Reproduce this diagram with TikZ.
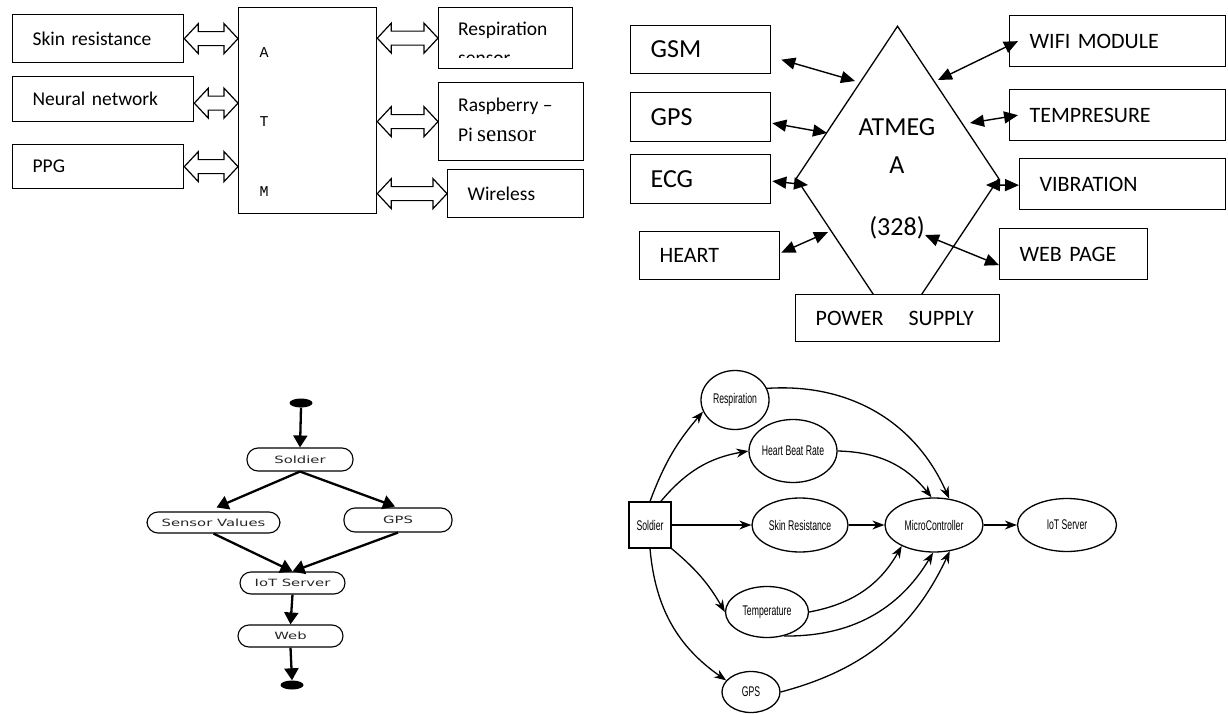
\documentclass[tikz,border=0pt]{standalone}
\usepackage{fontspec}
\usepackage{graphicx}
\setmainfont{Carlito}
\newfontfamily\monof{Liberation Mono}
\newfontfamily\seriff{Liberation Serif}
\newfontfamily\verdf{DejaVu Sans}
\newfontfamily\tahf{Liberation Sans}
\usetikzlibrary{arrows.meta,shapes.geometric,calc}
\newcommand{\fs}[1]{\fontsize{#1}{#1}\selectfont}
\newcommand{\flowtxt}[1]{\scalebox{1.48}[1]{\verdf\fontsize{10}{10}\selectfont #1}}
\newcommand{\condtxt}[1]{\scalebox{0.62}[1]{\tahf\fontsize{14}{14}\selectfont #1}}
\newcommand{\hollowarrow}[2]{%
  \draw[hollowarr] let \p1=#1, \p2=#2 in
    (\x1,\y1) -- (\x1+14pt,\y1+15pt) -- (\x1+14pt,\y1+7pt) -- (\x2-14pt,\y1+7pt)
    -- (\x2-14pt,\y1+15pt) -- (\x2,\y1) -- (\x2-14pt,\y1-15pt) -- (\x2-14pt,\y1-7pt)
    -- (\x1+14pt,\y1-7pt) -- (\x1+14pt,\y1-15pt) -- cycle;}
\tikzset{
  hollowarr/.style={draw, line width=1.2pt, fill=white, line join=miter},
  tlbox/.style={draw, line width=1.3pt, anchor=north west, inner xsep=20pt, inner ysep=0pt, align=left, font=\fs{19.5}},
  trbox/.style={draw, line width=1.3pt, anchor=north west, inner xsep=20pt, inner ysep=0pt, align=left},
  dblarr/.style={line width=1.4pt, {Triangle[length=14pt,width=12pt]}-{Triangle[length=14pt,width=12pt]}},
  flownode/.style={draw, line width=1.1pt, rounded corners=11pt, inner sep=0pt, text=black!85},
  blob/.style={ellipse, fill=black, minimum width=23pt, minimum height=9pt, inner sep=0pt},
  flowarr/.style={line width=2.3pt, -{Triangle[length=12pt,width=14pt]}},
  oval/.style={ellipse, draw, line width=1.3pt, inner sep=0pt},
  brarr/.style={line width=1.3pt, -{Stealth[length=12pt,width=9pt]}},
}
\begin{document}
\begin{tikzpicture}[x=1pt,y=-1pt]
\useasboundingbox (0,0) rectangle (1228,714);

% ---------------- top left ----------------
\node[tlbox, minimum width=171pt, minimum height=48pt, text width=131pt] (sk) at (12,14) {Skin resistance};
\node[tlbox, minimum width=181pt, minimum height=45pt, text width=141pt] (nn) at (12,76) {Neural network};
\node[tlbox, minimum width=171pt, minimum height=44pt, text width=131pt] (ppg) at (12,144) {PPG};
\node[draw, line width=1.3pt, anchor=north west, minimum width=138pt, minimum height=206pt, inner sep=0pt] (atm) at (238,7) {};
\node[font=\monof\fs{15}] (la) at (264,53) {A};
\node[font=\monof\fs{15}] (lt) at (264,122) {T};
\node[font=\monof\fs{15}] (lm) at (264,192) {M};

\node[tlbox, minimum width=134pt, minimum height=61pt, text width=94pt] (resp) at (438,7) {};
\node[anchor=base west, font=\fs{19.5}, inner sep=0pt] (respt) at (458,36) {Respiration};
\begin{scope}
  \clip (440,9) rectangle (570,58);
  \node[anchor=base west, font=\fs{19.5}, inner sep=0pt] (resps) at (458,65) {sensor};
\end{scope}
\node[tlbox, minimum width=145pt, minimum height=78pt, text width=105pt] (rasp) at (438,82) {};
\node[anchor=base west, font=\fs{19.5}, inner sep=0pt] (raspa) at (458,112) {Raspberry –};
\node[anchor=base west, font=\fs{19.5}, inner sep=0pt] (raspb) at (458,142) {Pi {\seriff\fs{23}sensor}};
\node[tlbox, minimum width=136pt, minimum height=48pt, text width=96pt] (wl) at (447,169) {Wireless};

\hollowarrow{(sk.east)}{(atm.west)}
\hollowarrow{([yshift=-4pt]nn.east)}{(atm.west)}
\hollowarrow{(ppg.east)}{(atm.west)}
\hollowarrow{(atm.east |- resp.west)}{(resp.west)}
\hollowarrow{(atm.east |- rasp.west)}{(rasp.west)}
\hollowarrow{(atm.east |- wl.west)}{(wl.west)}

% ---------------- top right ----------------
\node[draw, diamond, line width=1.3pt, minimum width=203pt, minimum height=305pt, inner sep=0pt] (mcu) at (897.5,178.5) {};
\node[font=\fs{26}] (t1) at (897,127) {ATMEG};
\node[font=\fs{26}] (t2) at (897,165) {A};
\node[font=\fs{26}] (t3) at (897,228) {(328)};

\node[trbox, font=\fs{26}, minimum width=140pt, minimum height=48pt, text width=100pt] (gsm) at (630,25) {GSM};
\node[trbox, font=\fs{26}, minimum width=140pt, minimum height=49pt, text width=100pt] (gps) at (630,92) {GPS};
\node[trbox, font=\fs{26}, minimum width=140pt, minimum height=49pt, text width=100pt] (ecg) at (630,154) {ECG};
\node[trbox, font=\fs{22}, minimum width=140pt, minimum height=48pt, text width=100pt] (heart) at (639,231) {HEART};
\node[trbox, font=\fs{22}, minimum width=216pt, minimum height=51pt, text width=176pt] (wifi) at (1009,15) {WIFI MODULE};
\node[trbox, font=\fs{22}, minimum width=216pt, minimum height=51pt, text width=176pt] (temp) at (1009,89) {TEMPRESURE};
\node[trbox, font=\fs{22}, minimum width=206pt, minimum height=51pt, text width=166pt] (vib) at (1019,158) {VIBRATION};
\node[trbox, font=\fs{22}, minimum width=148pt, minimum height=51pt, text width=108pt] (web) at (999,228) {WEB PAGE};

\coordinate (a1) at (855,81);
\coordinate (a2) at (827,133);
\coordinate (a3) at (808,185);
\coordinate (a4) at (828,232);
\coordinate (a5) at (938,80);
\coordinate (a6) at (970,123);
\coordinate (a7) at (986,185);
\coordinate (a8) at (925,235);
\draw[dblarr] ($(gsm.east)+(10,10)$) -- (a1);
\draw[dblarr] ($(gps.east)+(1,6)$) -- (a2);
\draw[dblarr] ($(ecg.east)+(1,2)$) -- (a3);
\draw[dblarr] ($(heart.east)+(1,-3)$) -- (a4);
\draw[dblarr] (a5) -- ($(wifi.west)+(9,0)$);
\draw[dblarr] (a6) -- ($(temp.west)+(9,0)$);
\draw[dblarr] (a7) -- ($(vib.west)+(0,1)$);
\draw[dblarr] (a8) -- ($(web.west)+(0,11)$);

\node[trbox, fill=white, font=\fs{22}, minimum width=204pt, minimum height=47pt, text width=164pt] (ps) at (795,294) {POWER\hspace{25pt}SUPPLY};

% ---------------- bottom left ----------------
\node[blob] (st) at (301,403) {};
\node[flownode, minimum width=106pt, minimum height=23pt] (fsold) at (300,459.5) {\flowtxt{Soldier}};
\node[flownode, minimum width=133pt, minimum height=21pt] (fsv) at (213.5,522.5) {\flowtxt{Sensor Values}};
\node[flownode, minimum width=108pt, minimum height=24pt] (fgps) at (398,520) {\flowtxt{GPS}};
\node[flownode, minimum width=105pt, minimum height=22pt] (fiot) at (292.5,583) {\flowtxt{IoT Server}};
\node[flownode, minimum width=105pt, minimum height=22pt] (fweb) at (290.5,636) {\flowtxt{Web}};
\node[blob] (en) at (292,685) {};
\draw[flowarr] (st.south) -- (fsold.north);
\draw[flowarr] (fsold.south) -- ([xshift=3pt,yshift=4pt]fsv.north);
\draw[flowarr] (fsold.south) -- ([xshift=-3pt,yshift=1pt]fgps.north);
\draw[flowarr] (fsv.south) -- (fiot.north);
\draw[flowarr] (fgps.south) -- (fiot.north);
\draw[flowarr] (fiot.south) -- (fweb.north);
\draw[flowarr] (fweb.south) -- (en.north);

% ---------------- bottom right ----------------
\node[draw, line width=1.3pt, minimum width=42pt, minimum height=46pt, inner sep=0pt] (bsold) at (650,525) {\condtxt{Soldier}};
\node[oval, minimum width=68pt, minimum height=59pt] (bresp) at (735,400) {\condtxt{Respiration}};
\node[oval, minimum width=88pt, minimum height=63pt] (bheart) at (793,451) {\condtxt{Heart Beat Rate}};
\node[oval, minimum width=96pt, minimum height=54pt] (bskin) at (800,525) {\condtxt{Skin Resistance}};
\node[oval, minimum width=98pt, minimum height=54pt] (bmc) at (934,525) {\condtxt{MicroController}};
\node[oval, minimum width=99pt, minimum height=53pt] (biot) at (1067,525) {\condtxt{IoT Server}};
\node[oval, minimum width=83pt, minimum height=51pt] (btemp) at (767,612) {\condtxt{Temperature}};
\node[oval, minimum width=58pt, minimum height=41pt] (bgps) at (751,692) {\condtxt{GPS}};

\draw[brarr] (bsold.north) to[bend left=10] (bresp.200);
\draw[brarr] ($(bsold.north)!0.5!(bsold.north east)$) to[bend left=20] (bheart.west);
\draw[brarr] (bsold.east) -- (bskin.west);
\draw[brarr] (bskin.east) -- (bmc.west);
\draw[brarr] (bmc.east) -- (biot.west);
\draw[brarr] (bsold.south east) to[bend left=10] (btemp.west);
\draw[brarr] (bsold.south) to[bend right=25] (bgps.155);
\draw[brarr] (bresp.20) to[bend left=35] (bmc.60);
\draw[brarr] (bheart.east) to[bend left=25] (bmc.95);
\draw[brarr] (btemp.east) to[bend right=25] (bmc.213);
\draw[brarr] (btemp.-55) to[bend right=30] (bmc.-92);
\draw[brarr] (bgps.east) to[bend right=25] (bmc.-59);
\end{tikzpicture}
\end{document}
